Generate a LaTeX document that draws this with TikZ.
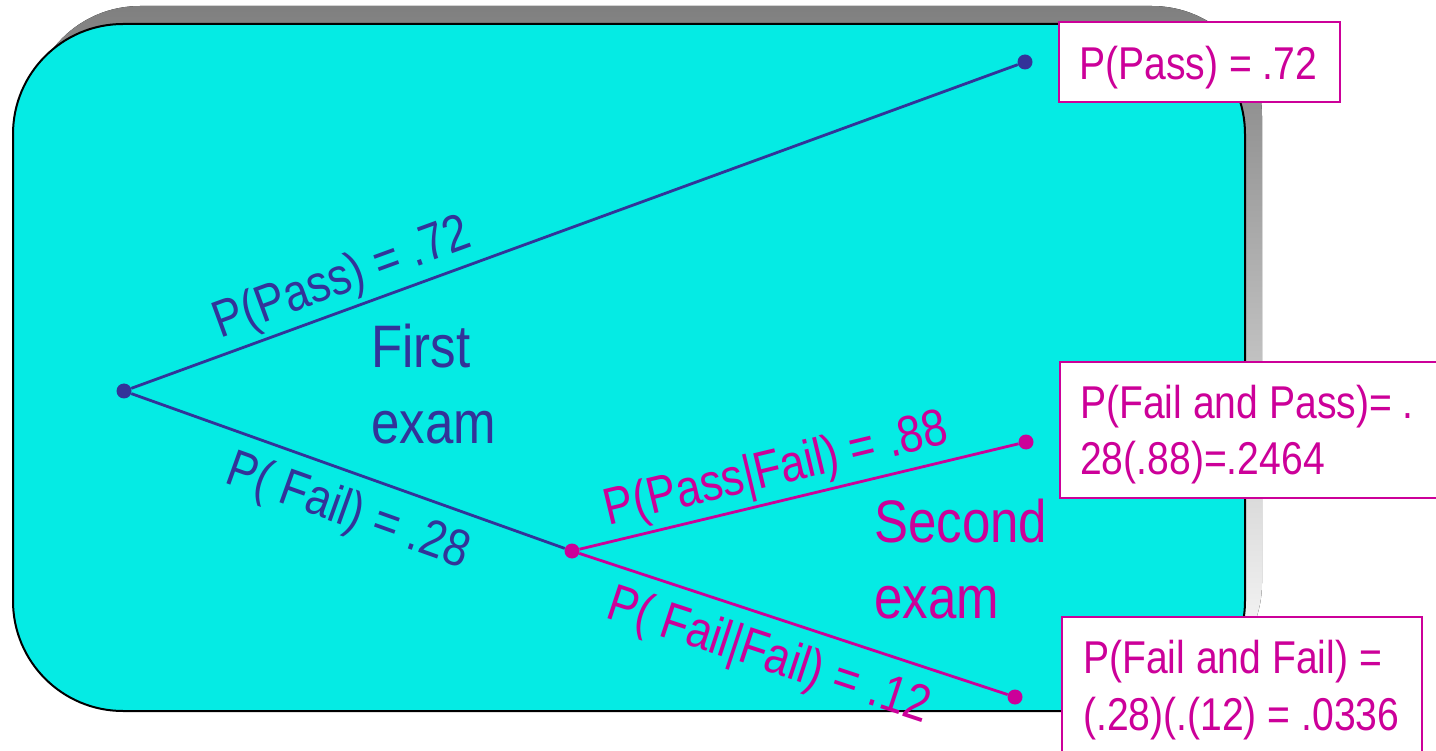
\documentclass[tikz,border=0pt]{standalone}
\usepackage{fontspec}
\setmainfont{Liberation Sans}[FakeStretch=0.85]
\definecolor{cyanbg}{RGB}{5,235,228}
\definecolor{dblue}{RGB}{51,51,153}
\definecolor{mag}{RGB}{204,0,153}
\definecolor{shade}{RGB}{128,128,128}
\begin{document}
\begin{tikzpicture}[x=1pt,y=-1pt,
  dot/.style={circle,fill,inner sep=0pt,minimum size=15pt},
  branch/.style={line width=2.8pt},
  lbl/.style={font=\fontsize{52}{58}\selectfont,inner sep=4pt},
  lblb/.style={lbl,inner ysep=14pt},
  big/.style={font=\fontsize{60}{76}\selectfont,align=left,inner sep=0pt,anchor=base west},
  resbox/.style={draw=mag,line width=2pt,fill=white},
  restext/.style={text=mag,font=\fontsize{46}{57}\selectfont,align=left,inner sep=0pt,anchor=base west}]
\useasboundingbox (0,0) rectangle (1436,751);
% shadow and panel
\fill[shade,rounded corners=110pt] (30,6) rectangle (1262,693);
\draw[fill=cyanbg,line width=2pt,rounded corners=110pt] (13,24) rectangle (1245,711);
% result boxes
\path[resbox] (1059,22) rectangle (1340,102);
\path[resbox] (1060,362) rectangle (1445,498);
\path[resbox] (1062,617) rectangle (1422,760);
% dots
\node[dot,dblue] (root) at (124,391) {};
\node[dot,dblue] (pass) at (1025,62) {};
\node[dot,mag] (mid) at (572,551) {};
\node[dot,mag] (fp) at (1026,442) {};
\node[dot,mag] (ff) at (1015,697) {};
% branches
\draw[branch,dblue] (root) -- node[lbl,pos=0.25,above,sloped,text=dblue] {P(Pass) = .72} (pass);
\draw[branch,dblue] (root) -- node[lblb,pos=0.53,below,sloped,text=dblue] {P( Fail) = .28} (mid);
\draw[branch,mag] (mid) -- node[lbl,pos=0.465,above,sloped,text=mag] {P(Pass|Fail) = .88} (fp);
\draw[branch,mag] (mid) -- node[lblb,pos=0.47,below,sloped,text=mag] {P( Fail|Fail) = .12} (ff);
% stage labels
\node[big,text=dblue] (first) at (371,443) {First\\exam};
\node[big,text=mag] (second) at (874,618) {Second\\exam};
% result texts
\node[restext] (r1) at (1079,80) {P(Pass) = .72};
\node[restext] (r2) at (1080,475) {P(Fail and Pass)= .\\28(.88)=.2464};
\node[restext] (r3) at (1083,730) {P(Fail and Fail) =\\(.28)(.(12) = .0336};
\end{tikzpicture}
\end{document}
